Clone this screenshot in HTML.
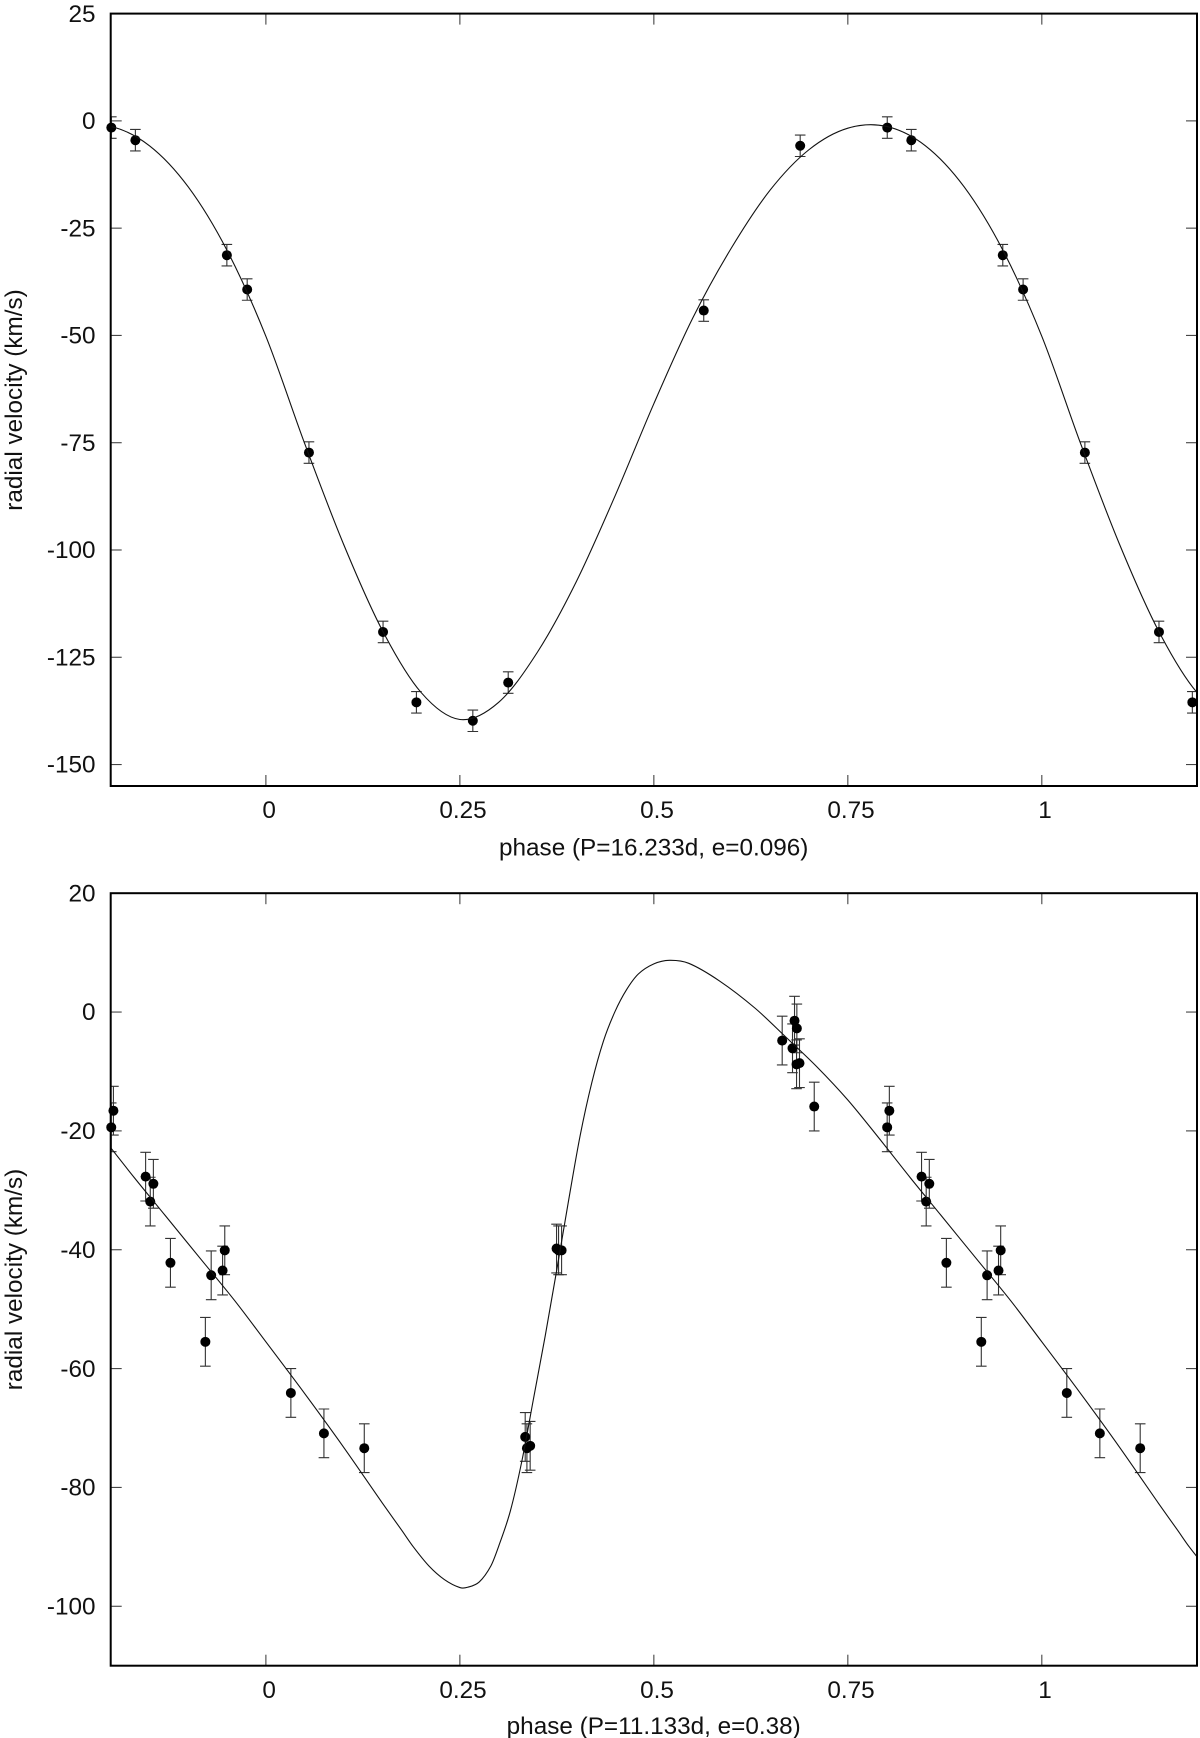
<!DOCTYPE html>
<html lang="en">
<head>
<meta charset="utf-8">
<title>Radial velocity phase curves</title>
<style>
  html, body { margin: 0; padding: 0; background: #fff; }
  svg { display: block; }
  text { font-family: "Liberation Sans", Arial, sans-serif; font-size: 24.3px; fill: #111; }
</style>
</head>
<body>
<svg id="figure" xmlns="http://www.w3.org/2000/svg" width="1200" height="1738" viewBox="0 0 1200 1738">
  <rect x="0" y="0" width="1200" height="1738" fill="#fff"/>
  <defs>
    <clipPath id="clip-top"><rect x="110.7" y="13.6" width="1086.3" height="772.4"/></clipPath>
    <clipPath id="clip-bottom"><rect x="110.7" y="893.2" width="1086.3" height="772.5"/></clipPath>
  </defs>
  <g id="plot-top">
    <text x="653.7" y="855.5" text-anchor="middle">phase (P=16.233d, e=0.096)</text>
    <text transform="translate(22 400) rotate(-90)" text-anchor="middle">radial velocity (km/s)</text>
  </g>
  <g id="plot-bottom">
    <text x="653.7" y="1734" text-anchor="middle">phase (P=11.133d, e=0.38)</text>
    <text transform="translate(22 1279.5) rotate(-90)" text-anchor="middle">radial velocity (km/s)</text>
  </g>
</svg>
<script>
// Shared x axis
const xTickValues = [0, 0.25, 0.5, 0.75, 1];
const xTickLabels = ["0", "0.25", "0.5", "0.75", "1"];

// Upper panel (P=16.233d)
const topYTicks = [25, 0, -25, -50, -75, -100, -125, -150];
const topPhases = [0.0555, 0.151, 0.194, 0.2667, 0.3123, 0.5643, 0.6886, 0.8008, 0.8318, 0.9497, 0.9759];
const topVelocities = [-77.3, -119.1, -135.5, -139.8, -130.9, -44.2, -5.8, -1.56, -4.5, -31.3, -39.3];
const topErrors = [2.5, 2.5, 2.5, 2.5, 2.5, 2.5, 2.5, 2.5, 2.5, 2.5, 2.5];
const topCurvePhases = [0, 0.05, 0.1, 0.15, 0.2, 0.25, 0.3, 0.35, 0.4, 0.45, 0.5, 0.55, 0.6, 0.65, 0.7, 0.75, 0.8, 0.85, 0.9, 0.95];
const topCurveVelocities = [-50.2, -75.2, -98.6, -118.7, -133.2, -139.5, -135.5, -123.8, -107.4, -87.4, -65.9, -46, -29.6, -16.1, -6.7, -1.7, -1.3, -5.8, -15.4, -30.2];

// Lower panel (P=11.133d)
const bottomYTicks = [20, 0, -20, -40, -60, -80, -100];
const bottomPhases = [0.0322, 0.0748, 0.1268, 0.3342, 0.3364, 0.3406, 0.3746, 0.3772, 0.3811, 0.6654, 0.6787, 0.6813, 0.6843, 0.6839, 0.6877, 0.7067, 0.8007, 0.8035, 0.845, 0.851, 0.855, 0.877, 0.922, 0.9295, 0.9442, 0.947];
const bottomVelocities = [-64.1, -70.9, -73.4, -71.5, -73.4, -73, -39.8, -40.1, -40.1, -4.8, -6.1, -1.46, -2.75, -8.8, -8.6, -15.9, -19.4, -16.6, -27.7, -31.9, -28.9, -42.2, -55.5, -44.3, -43.5, -40.1];
const bottomErrors = [4.1, 4.1, 4.1, 4.1, 4.1, 4.1, 4.1, 4.1, 4.1, 4.1, 4.1, 4.1, 4.1, 4.1, 4.1, 4.1, 4.1, 4.1, 4.1, 4.1, 4.1, 4.1, 4.1, 4.1, 4.1, 4.1];
const bottomCurvePhases = [0, 0.05, 0.1, 0.15, 0.175, 0.19, 0.21, 0.23, 0.25, 0.26, 0.275, 0.29, 0.3, 0.315, 0.33, 0.345, 0.36, 0.375, 0.39, 0.405, 0.42, 0.435, 0.45, 0.465, 0.48, 0.5, 0.52, 0.545, 0.585, 0.63, 0.67, 0.71, 0.75, 0.79, 0.83, 0.87, 0.915, 0.96];
const bottomCurveVelocities = [-55.5, -64.2, -73.2, -82.6, -87.2, -90, -93.2, -95.5, -96.85, -96.8, -95.9, -93.2, -89.9, -84, -75.5, -65, -54.5, -43.3, -31.8, -20.8, -11.9, -4.9, 0.1, 3.8, 6.4, 8.1, 8.7, 8.2, 5.2, 0.7, -4.2, -9.2, -14.8, -21.2, -27.8, -34.2, -41.4, -48.6];

const SVG_NS = "http://www.w3.org/2000/svg";
const PHASE_MIN = -0.2;
const PHASE_MAX = 1.2;
const LEFT = 110.7;
const RIGHT = 1197;

function xScale(p) {
  return LEFT + (p - PHASE_MIN) / (PHASE_MAX - PHASE_MIN) * (RIGHT - LEFT);
}

function make(tag, attrs, parent) {
  const el = document.createElementNS(SVG_NS, tag);
  for (const key in attrs) el.setAttribute(key, attrs[key]);
  parent.appendChild(el);
  return el;
}

function curvePath(phases, velocities, yScale) {
  const pts = [];
  [-1, 0, 1, 2].forEach(function (k) {
    phases.forEach(function (p, i) {
      const ph = p + k;
      if (ph >= -0.4 && ph <= 1.4) pts.push([xScale(ph), yScale(velocities[i])]);
    });
  });
  const slope = pts.map(function (pt, i) {
    const a = pts[Math.max(i - 1, 0)];
    const b = pts[Math.min(i + 1, pts.length - 1)];
    return (b[1] - a[1]) / (b[0] - a[0]);
  });
  let d = "M" + pts[0][0].toFixed(2) + " " + pts[0][1].toFixed(2);
  for (let i = 0; i < pts.length - 1; i++) {
    const dx = (pts[i + 1][0] - pts[i][0]) / 3;
    d += "C" + (pts[i][0] + dx).toFixed(2) + " " + (pts[i][1] + slope[i] * dx).toFixed(2) +
         " " + (pts[i + 1][0] - dx).toFixed(2) + " " + (pts[i + 1][1] - slope[i + 1] * dx).toFixed(2) +
         " " + pts[i + 1][0].toFixed(2) + " " + pts[i + 1][1].toFixed(2);
  }
  return d;
}

function drawPlot(group, clipId, yDomain, yRange, yTicks, phases, velocities, errors, curvePhases, curveVelocities) {
  const top = yRange[0];
  const bottom = yRange[1];
  const yScale = function (v) {
    return top + (yDomain[0] - v) / (yDomain[0] - yDomain[1]) * (bottom - top);
  };
  const tickStyle = { stroke: "#444", "stroke-width": 1.1, fill: "none" };

  // y ticks and labels
  yTicks.forEach(function (v) {
    const y = yScale(v);
    const left = make("line", Object.assign({ x1: LEFT, x2: LEFT + 11, y1: y, y2: y }, tickStyle), group);
    
    
    const right = make("line", Object.assign({ x1: RIGHT - 11, x2: RIGHT, y1: y, y2: y }, tickStyle), group);
    
    
    const label = make("text", { x: 95.5, y: y + 8.2, "text-anchor": "end" }, group);
    
    
    label.textContent = String(v);
  });

  // x ticks and labels
  xTickValues.forEach(function (p, i) {
    const x = xScale(p);
    const low = make("line", Object.assign({ x1: x, x2: x, y1: bottom - 11, y2: bottom }, tickStyle), group);
    
    
    const high = make("line", Object.assign({ x1: x, x2: x, y1: top, y2: top + 11 }, tickStyle), group);
    
    
    const label = make("text", { x: x + 3.2, y: bottom + 32.2, "text-anchor": "middle" }, group);
    
    
    label.textContent = xTickLabels[i];
  });

  // error bars (clipped) then points (not clipped)
  const barGroup = make("g", { "clip-path": "url(#" + clipId + ")", stroke: "#333", "stroke-width": 1.1, fill: "none" }, group);
  
  
  const dotGroup = make("g", { fill: "#000" }, group);
  
  

  [-1, 0, 1].forEach(function (k) {
    phases.forEach(function (p, i) {
      const ph = p + k;
      if (ph < PHASE_MIN || ph > PHASE_MAX) return;
      const x = xScale(ph);
      const y1 = yScale(velocities[i] + errors[i]);
      const y2 = yScale(velocities[i] - errors[i]);
      const bar = make("path", {
        d: "M" + x + " " + y1 + "V" + y2 + "M" + (x - 5.3) + " " + y1 + "H" + (x + 5.3) + "M" + (x - 5.3) + " " + y2 + "H" + (x + 5.3)
      }, barGroup);
      
      
      const dot = make("circle", { cx: x, cy: yScale(velocities[i]), r: 5 }, dotGroup);
      
      
    });
  });

  // fitted curve
  const curve = make("path", {
    d: curvePath(curvePhases, curveVelocities, yScale),
    fill: "none", stroke: "#111", "stroke-width": 1.1,
    "clip-path": "url(#" + clipId + ")"
  }, group);
  
  

  // frame
  const frame = make("rect", {
    x: LEFT, y: top, width: RIGHT - LEFT, height: bottom - top,
    fill: "none", stroke: "#000", "stroke-width": 2
  }, group);
  
  
}

drawPlot(document.getElementById("plot-top"), "clip-top", [25, -155], [13.6, 786], topYTicks,
  topPhases, topVelocities, topErrors, topCurvePhases, topCurveVelocities);
drawPlot(document.getElementById("plot-bottom"), "clip-bottom", [20, -110], [893.2, 1665.7], bottomYTicks,
  bottomPhases, bottomVelocities, bottomErrors, bottomCurvePhases, bottomCurveVelocities);
</script>
</body>
</html>
